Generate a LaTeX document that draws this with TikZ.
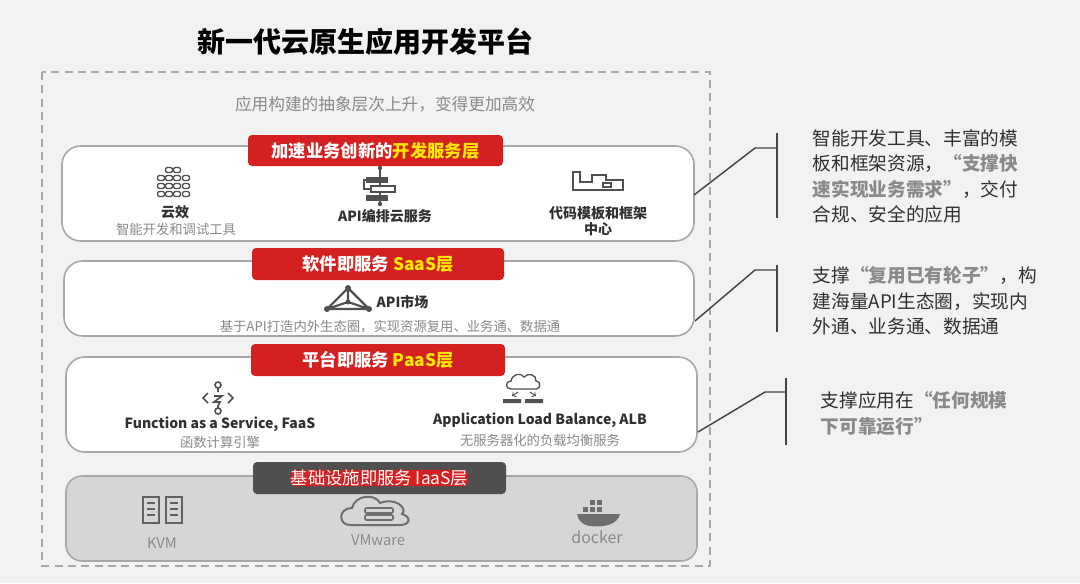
\documentclass[tikz,border=0pt]{standalone}
\usepackage{fontspec}
\setmainfont{Noto Sans CJK SC}
\newfontfamily\cjkb{Noto Sans CJK SC}[FakeBold=0]
\usetikzlibrary{positioning}
\definecolor{bg}{HTML}{F2F2F2}
\definecolor{redb}{HTML}{D42020}
\definecolor{yel}{HTML}{FFE800}
\definecolor{txt}{HTML}{303030}
\definecolor{mute}{HTML}{8A8A8A}
\definecolor{edge}{HTML}{A8A8A8}
\definecolor{iaas}{HTML}{505050}
\definecolor{iaasbg}{HTML}{D6D6D6}
\tikzset{
  layer/.style={draw=edge,line width=1.2pt,fill=white,rounded corners=14pt},
  banner/.style={fill=redb,rounded corners=3pt,text=white,font=\fontsize{13}{15}\selectfont\bfseries,inner sep=0pt},
  lbl/.style={font=\fontsize{10.5}{12.5}\selectfont\bfseries,text=txt,align=center},
  sub/.style={font=\fontsize{10}{12}\selectfont\itshape,text=mute},
  note/.style={font=\fontsize{14}{19}\selectfont,text=txt,align=left,anchor=north west},
  brk/.style={draw=txt!90,line width=1.1pt},
  ico/.style={draw=iaas,line width=1.2pt},
  em/.style={text=mute,font=\bfseries}
}
\begin{document}
\begin{tikzpicture}[x=0.75pt,y=-0.75pt]
\fill[bg] (0,0) rectangle (1080,583);
\useasboundingbox (0,0) rectangle (1080,583);
\node[font=\fontsize{21}{24}\selectfont\bfseries,text=black] (title) at (365,42) {新一代云原生应用开发平台};
\draw[edge,dashed,line width=1.2pt,dash pattern=on 6pt off 4pt] (42,72) rectangle (710,566);
\node[text=mute,font=\fontsize{12.5}{15}\selectfont] (subt) at (385,104) {应用构建的抽象层次上升，变得更加高效};

% layer 1
\path[layer] (62,146) rectangle (694,241);
\coordinate (l1) at (694,195);
\path[fill=redb,rounded corners=3pt] (248,135) rectangle (503,166);
\node[banner] (b1) at (375.5,150.5) {加速业务创新的\textcolor{yel}{开发服务层}};
% yunxiao icon
\foreach \cx/\ys in {161/{178,186,194},169/{170,178,186,194},177/{170,178,186,194},186/{178,186,194}}{
  \foreach \yy in \ys {\draw[ico,line width=1pt,rounded corners=1.5pt] (\cx-3.5,\yy-2.5) rectangle (\cx+3.5,\yy+2.5);}}
\node[lbl] (yx) at (175,212) {云效};
\node[sub] (yxs) at (176,229) {智能开发和调试工具};
% API orchestration icon
\draw[ico] (380,168)--(380,204);
\fill[iaas] (366,177) rectangle (388,183);
\draw[ico,fill=white] (371,186) rectangle (395,192);
\fill[iaas] (366,195) rectangle (388,201);
\draw[ico] (366,180)--(364,180)--(364,189)--(371,189);
\fill[iaas] (380,168) circle (2.2) (380,204) circle (2.2);
\node[lbl] (api) at (385,216) {API编排云服务};
% template icon
\draw[ico,line width=2pt] (573,190)--(573,172)--(580,172)--(580,182)--(592,182)--(592,175)--(606,175)--(606,180)--(623,180)--(623,190)--cycle;
\draw[ico,line width=1.5pt] (603,183) rectangle (611,187);
\node[lbl] (tpl) at (598,221) {代码模板和框架\\中心};

% layer 2
\path[layer] (64,261) rectangle (694,336);
\coordinate (l2) at (695,321);
\path[fill=redb,rounded corners=3pt] (252,248) rectangle (504,280);
\node[banner] (b2) at (378,264) {软件即服务 \textcolor{yel}{SaaS层}};
\draw[ico,line width=1.6pt] (327,309)--(348,288)--(369,309)--cycle (348,288)--(348,302)--(327,309) (348,302)--(369,309);
\fill[iaas] (348,288) circle (3) (327,309) circle (3) (369,309) circle (3) (348,302) circle (2.5);
\node[lbl,anchor=west] (mkt) at (372,302) {API市场};
\node[sub] (mkts) at (390,327) {基于API打造内外生态圈，实现资源复用、业务通、数据通};

% layer 3
\path[layer] (66,357) rectangle (697,452);
\coordinate (l3) at (698,432);
\path[fill=redb,rounded corners=3pt] (251,344) rectangle (505,376);
\node[banner] (b3) at (378,360) {平台即服务 \textcolor{yel}{PaaS层}};
\draw[ico] (208,393)--(203,398)--(208,403) (228,393)--(233,398)--(228,403);
\draw[ico] (218,388)--(218,392) (214,396)--(222,396)--(214,402)--(220,402)--(218,406)--(218,409);
\draw[ico,fill=white] (218,385) circle (3) (218,411) circle (3);
\node[lbl] (faas) at (220,424) {Function as a Service, FaaS};
\node[sub,font=\fontsize{10}{12}\selectfont] (faass) at (220,442) {函数计算引擎};
\draw[ico,line width=1pt] (511,389) .. controls (505,389) and (505,381) .. (511,381) .. controls (512,374) and (521,372) .. (524,377) .. controls (528,372) and (537,375) .. (536,381) .. controls (541,381) and (541,389) .. (536,389) -- cycle;
\draw[ico,line width=0.8pt,->] (518,392)--(512,396); \draw[ico,line width=0.8pt,->] (530,392)--(536,396);
\fill[iaas] (503,399) rectangle (521,403) (525,399) rectangle (543,403);
\node[lbl] (alb) at (540,420) {Application Load Balance, ALB};
\node[sub] (albs) at (540,440) {无服务器化的负载均衡服务};

% layer 4
\path[draw=edge,line width=1.2pt,fill=iaasbg,rounded corners=12pt] (66,476) rectangle (697,561);
\path[fill=iaas,rounded corners=3pt] (253,462) rectangle (506,494);
\node[banner,font=\fontsize{13}{15}\selectfont] (b4) at (379.5,478) {基础设施即服务 IaaS层};
\foreach \xx in {143,166}{\draw[ico,line width=1.5pt,draw=mute!70!black] (\xx,497) rectangle (\xx+16,523);
  \foreach \yy in {503,509,515}{\draw[mute!70!black,line width=1.2pt] (\xx+4,\yy)--(\xx+12,\yy);}}
\node[text=mute,font=\fontsize{11}{13}\selectfont] (kvm) at (162,543) {KVM};
\draw[mute!80!black,line width=1.5pt] (350,525) .. controls (338,525) and (338,508) .. (352,508) .. controls (355,495) and (375,493) .. (380,503) .. controls (395,497) and (408,508) .. (402,514) .. controls (412,517) and (410,525) .. (400,525) -- cycle;
\foreach \yy in {508,515}{\draw[mute!80!black,line width=1.2pt,rounded corners=1pt] (365,\yy) rectangle (393,\yy+5);}
\node[text=mute,font=\fontsize{11}{13}\selectfont] (vmw) at (378,540) {VMware};
\fill[mute!80!black] (577,514) -- (620,514) .. controls (618,524) and (604,528) .. (590,526) .. controls (582,525) and (578,520) .. (577,514) -- cycle;
\foreach \xx in {583,590,597}{\fill[mute!80!black] (\xx,507) rectangle (\xx+5,512);}
\foreach \xx in {590,597}{\fill[mute!80!black] (\xx,500) rectangle (\xx+5,505);}
\node[text=mute,font=\fontsize{12}{14}\selectfont] (dock) at (597,537) {docker};

% right brackets
\draw[brk] (777,133)--(777,218);
\coordinate (k1) at (777,148);
\draw[brk] (l1)--(755,148)--(k1);
\node[note] (n1) at (808,125) {智能开发工具、丰富的模\\板和框架资源，{\color{mute}\bfseries “支撑快}\\{\color{mute}\bfseries 速实现业务需求”}，交付\\合规、安全的应用};
\draw[brk] (777,265)--(777,332);
\coordinate (k2) at (777,270);
\draw[brk] (l2)--(755,270)--(k2);
\node[note] (n2) at (808,262) {支撑{\color{mute}\bfseries “复用已有轮子”}，构\\建海量API生态圈，实现内\\外通、业务通、数据通};
\draw[brk] (786,378)--(786,445);
\coordinate (k3) at (786,392);
\draw[brk] (l3)--(765,392)--(k3);
\node[note] (n3) at (816,387) {支撑应用在{\color{mute}\bfseries “任何规模}\\{\color{mute}\bfseries 下可靠运行”}};
\end{tikzpicture}
\end{document}
